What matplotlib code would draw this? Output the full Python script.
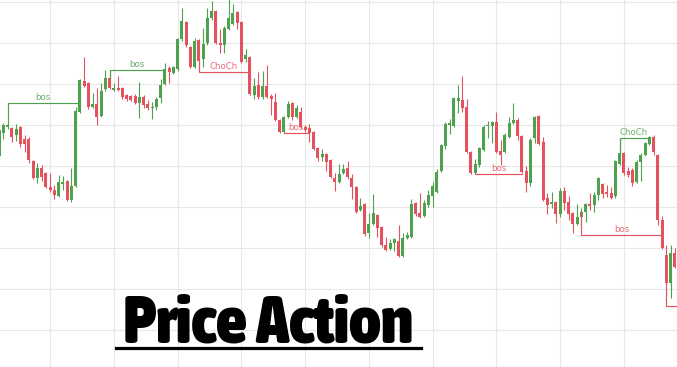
"""Candlestick price-action chart with bos / ChoCh structure lines."""

import matplotlib

matplotlib.use("Agg")
import matplotlib.pyplot as plt  # noqa: E402
import numpy as np  # noqa: E402
from matplotlib import font_manager  # noqa: E402
from matplotlib.lines import Line2D  # noqa: E402

# OHLC per candle (arbitrary price units)
opens = [244, 267, 273, 272, 265, 273, 261, 261, 239, 222,
         232, 227, 213, 210, 204, 216.5, 219, 200, 214, 288,
         319, 317, 293, 296, 284, 311, 322, 310, 312, 312,
         305, 304, 304, 297, 303, 296, 292.5, 293, 302, 316,
         332, 327, 331, 361, 378, 353, 333, 360, 341, 357,
         382, 389, 357, 355, 371, 376, 388, 378, 341, 343,
         305, 315, 303, 314, 304, 298, 280, 268, 283, 297,
         283, 288, 273, 272, 268, 252, 243, 246, 240, 222,
         218, 227, 232, 222, 213, 190, 196, 167, 176, 185,
         173, 155, 151, 157, 159, 144, 162, 163, 197, 187,
         184, 195, 204, 208, 229, 254, 275, 274, 299, 300,
         293, 248, 227, 235, 250, 274, 274, 278, 249, 248,
         263, 277, 280, 264, 229, 217, 262, 284, 258, 202,
         196.5, 198, 186, 209, 198, 187, 176, 183, 188, 196,
         195, 205, 216, 208, 207, 204, 236, 247, 229, 230,
         218, 238, 245, 256, 263, 245, 180, 145, 117, 147]
highs = [273, 277, 276, 273, 276, 274, 265, 263, 240, 237,
         235, 228, 227, 215, 225, 224, 220, 232, 293, 321,
         343, 318, 307, 312, 317, 330, 329, 317, 324, 313,
         306, 305, 306, 318, 305, 300, 298, 303, 321, 337,
         334, 334, 362, 392, 379, 354, 362, 361, 372, 392,
         399, 390, 371, 374, 402, 396, 389, 379, 351, 344,
         322, 328, 329, 335, 306, 307, 281, 284, 299, 298,
         295, 293, 275, 276, 269, 253, 251, 247, 241, 227,
         236, 236, 239, 226, 214, 202, 197, 187, 206, 186,
         174, 163, 161, 162, 175, 167, 168, 201, 198, 207,
         200, 210, 218, 231, 256, 278, 281, 303, 315, 324,
         301, 249, 241, 253, 275, 279, 279, 288, 260, 267,
         283, 297, 282, 265, 234, 262, 284, 285, 263, 207,
         208, 199, 212, 213, 204, 188, 196, 192, 197, 207,
         208, 223, 217, 215, 213, 240, 262, 248, 233, 232,
         240, 247, 258, 264, 265, 246, 184, 155, 155, 152]
lows = [240, 261, 271, 258, 259, 253, 248, 237, 221, 217,
        219, 212, 208, 201, 203, 210, 199, 198, 213, 287,
        313, 291, 292, 275, 283, 309, 311, 309, 309.5, 301,
        299, 299, 296, 282, 292, 290, 281, 290, 297, 315,
        317, 326.5, 329, 359, 353, 332, 332, 338, 333, 355,
        380, 356, 347, 347, 370, 375, 371, 337, 338, 305,
        301, 301, 301, 302.5, 285, 279, 267, 267, 282, 280,
        282, 272, 268, 258, 250, 239, 239, 229, 222, 209,
        217, 226, 221, 201, 187, 189, 164, 162, 175, 163,
        153, 149, 150, 149, 143, 143, 161, 162, 184, 182,
        183, 193, 193, 207, 228, 251, 266, 273, 287, 288,
        247, 226, 226, 233, 249, 262, 257, 247, 235, 247,
        262, 276, 260, 227, 208, 214, 257, 255, 199, 186,
        192, 177, 183, 190, 180, 167, 175, 180, 178, 190,
        188, 200, 202, 203, 201, 202, 235, 225, 223, 214,
        217, 219, 244, 255, 245, 175, 151, 116, 102, 132]
closes = [270, 275, 275.5, 263, 271, 256, 256, 240, 222, 232,
          223, 213, 210, 205, 218, 218, 200, 214, 289, 320,
          314, 293, 296, 283, 309, 322, 312, 312, 310, 303,
          301, 300, 297, 303, 295, 292, 293, 301, 315, 331,
          328, 333, 361, 379, 355, 333, 359, 339, 356, 382,
          389, 357, 355, 372, 382, 387, 377, 338, 345, 306,
          314, 303, 314, 303, 301, 280, 268, 283, 296, 283,
          292, 273, 270, 267, 251, 242, 246, 238, 223, 218,
          226, 231, 223, 213, 188, 194, 166, 176, 187, 172,
          155, 150, 157, 161, 144, 162, 165, 196, 186, 183,
          197, 205, 214, 228, 255, 276, 277, 302, 302, 292,
          248, 227, 236, 252, 273, 275, 278, 248, 245, 265,
          277, 280, 264, 228, 217, 260, 283, 256, 200, 195,
          198, 186, 209, 197, 186, 176, 183, 188, 196, 194,
          205, 222, 206, 206, 202, 239, 247, 227, 225, 217,
          238, 245, 257, 263, 248, 180, 152, 117, 147, 133]

# market structure breaks: label, direction, candle span, level, anchors
struct_labels = ["bos", "bos", "ChoCh", "bos", "bos", "ChoCh", "bos", ""]
struct_dirs = ["up", "up", "down", "down", "down", "up", "down", "down"]
struct_start = [2, 26, 47, 67, 112, 146, 137, 157]
struct_end = [18.6, 39, 58.7, 72.6, 123, 152.8, 156, 161]
struct_level = [297, 330, 328, 267, 226, 262, 165, 94]
struct_start_anchor = [276, 322, 339, 267, 226, 247, 188, 117]
struct_end_anchor = [289, 330, 328, 272, 226, 257, 165, 94]

UP = "#4ea24e"
DOWN = "#e3525e"

o = np.array(opens, float)
h = np.array(highs, float)
lo = np.array(lows, float)
c = np.array(closes, float)
idx = np.arange(len(o))
colors = np.where(c >= o, UP, DOWN)

fig = plt.figure(figsize=(6.77, 3.67), dpi=100)
ax = fig.add_axes([0, 0, 1, 1])

ax.vlines(idx, lo, h, colors=colors, linewidth=0.8, zorder=2)
body = np.maximum(np.abs(c - o), 0.9)
ax.bar(idx, body, bottom=np.minimum(o, c), width=0.72, color=colors,
       linewidth=0, zorder=3)

for lab, d, k0, k1, lev, a0, a1 in zip(struct_labels, struct_dirs,
                                       struct_start, struct_end, struct_level,
                                       struct_start_anchor, struct_end_anchor):
    col = UP if d == "up" else DOWN
    ax.plot([k0, k0, k1, k1], [a0, lev, lev, a1], color=col, lw=0.85,
            zorder=4, solid_joinstyle="miter")
    if lab:
        ax.text((k0 + k1) / 2, lev + 1.2, lab, color=col, alpha=0.85,
                fontsize=6.2, ha="center", va="bottom", zorder=5)

ax.set_xlim(0.22, 159.52)
ax.set_ylim(33, 400)
ax.set_xticks(range(12, 160, 15))
ax.set_yticks(np.arange(70, 400, 41))
ax.grid(True, color="#e8e8e8", linewidth=0.8, zorder=0)
ax.set_axisbelow(True)
ax.tick_params(length=0, labelbottom=False, labelleft=False)
for s in ax.spines.values():
    s.set_visible(False)


# heavy, narrow title face (Impact-like): pick the best installed match
def weight_of(entry):
    w = entry.weight
    if isinstance(w, str):
        w = font_manager.weight_dict.get(w, 400)
    return w


fonts = font_manager.fontManager.ttflist
narrow_heavy = [f for f in fonts
                if ("Narrow" in f.name or "Condensed" in f.name
                    or "condensed" in str(f.stretch))
                and weight_of(f) >= 700 and f.style == "normal"]
if narrow_heavy:
    pick = max(narrow_heavy, key=weight_of)
else:
    heavy = [f for f in fonts if f.name in ("Roboto", "Inter", "Lato")
             and f.style == "normal"]
    pick = max(heavy, key=weight_of) if heavy else None
title_font = (font_manager.FontProperties(fname=pick.fname) if pick
              else font_manager.FontProperties(weight="bold"))

title = fig.text(268.5 / 677, 1 - 343 / 367, "Price Action", ha="center",
                 va="baseline", fontproperties=title_font, color="black")
title.set_fontsize(40)
# fit the title width to the underline span
renderer = fig.canvas.get_renderer()
w = title.get_window_extent(renderer=renderer).width
title.set_fontsize(40 * 290 / w)
fig.add_artist(Line2D([116 / 677, 421 / 677], [1 - 348 / 367] * 2,
                      color="black", lw=2.3))

fig.savefig("out.png", dpi=100, facecolor="white")
